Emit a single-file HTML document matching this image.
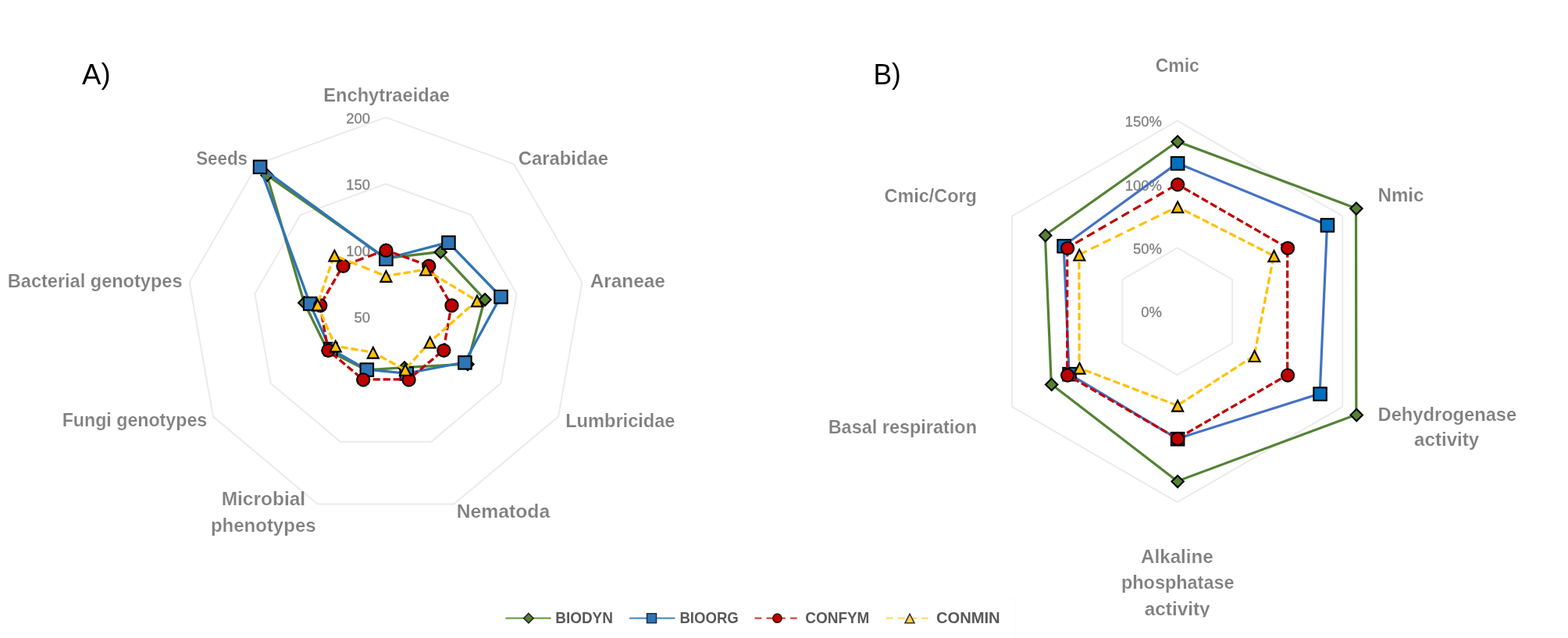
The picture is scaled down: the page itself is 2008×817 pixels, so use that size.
<!DOCTYPE html>
<html lang="en"><head><meta charset="utf-8"><title>Radar charts</title>
<style>html,body{margin:0;padding:0;background:#fff;}body{width:2008px;height:817px;overflow:hidden;}svg{display:block;font-family:'Liberation Sans', 'DejaVu Sans', sans-serif;}</style>
</head><body>
<svg width="2008" height="817" viewBox="0 0 2008 817">
<rect width="2008" height="817" fill="#fff"/>
<g id="chartA">
<polygon points="494.00,235.50 603.40,275.32 661.61,376.15 641.40,490.80 552.21,565.64 435.79,565.64 346.60,490.80 326.39,376.15 384.60,275.32" fill="none" stroke="#ebebeb" stroke-width="2.0"/>
<polygon points="494.00,150.40 658.10,210.13 745.42,361.37 715.10,533.35 581.32,645.60 406.68,645.60 272.90,533.35 242.58,361.37 329.90,210.13" fill="none" stroke="#ebebeb" stroke-width="2.0"/>
<text x="474.0" y="413.0" font-size="18.4" font-weight="normal" text-anchor="end" fill="#808080" stroke="#808080" stroke-width="0.3">50</text>
<text x="474.0" y="327.9" font-size="18.4" font-weight="normal" text-anchor="end" fill="#808080" stroke="#808080" stroke-width="0.3">100</text>
<text x="474.0" y="242.8" font-size="18.4" font-weight="normal" text-anchor="end" fill="#808080" stroke="#808080" stroke-width="0.3">150</text>
<text x="474.0" y="157.7" font-size="18.4" font-weight="normal" text-anchor="end" fill="#808080" stroke="#808080" stroke-width="0.3">200</text>
<text x="414.3" y="130.0" font-size="24.5" font-weight="bold" text-anchor="start" fill="#808080" textLength="161.7" lengthAdjust="spacingAndGlyphs" stroke="#fff" stroke-width="0.2">Enchytraeidae</text>
<text x="663.8" y="210.7" font-size="24.5" font-weight="bold" text-anchor="start" fill="#808080" textLength="115.2" lengthAdjust="spacingAndGlyphs" stroke="#fff" stroke-width="0.2">Carabidae</text>
<text x="755.7" y="367.5" font-size="24.5" font-weight="bold" text-anchor="start" fill="#808080" textLength="96.2" lengthAdjust="spacingAndGlyphs" stroke="#fff" stroke-width="0.2">Araneae</text>
<text x="724.2" y="546.5" font-size="24.5" font-weight="bold" text-anchor="start" fill="#808080" textLength="140.3" lengthAdjust="spacingAndGlyphs" stroke="#fff" stroke-width="0.2">Lumbricidae</text>
<text x="584.7" y="663.3" font-size="24.5" font-weight="bold" text-anchor="start" fill="#808080" textLength="119.5" lengthAdjust="spacingAndGlyphs" stroke="#fff" stroke-width="0.2">Nematoda</text>
<text x="283.7" y="646.6" font-size="24.5" font-weight="bold" text-anchor="start" fill="#808080" textLength="107.4" lengthAdjust="spacingAndGlyphs" stroke="#fff" stroke-width="0.2">Microbial</text>
<text x="269.9" y="680.5" font-size="24.5" font-weight="bold" text-anchor="start" fill="#808080" textLength="134.7" lengthAdjust="spacingAndGlyphs" stroke="#fff" stroke-width="0.2">phenotypes</text>
<text x="79.7" y="546.3" font-size="24.5" font-weight="bold" text-anchor="start" fill="#808080" textLength="185.5" lengthAdjust="spacingAndGlyphs" stroke="#fff" stroke-width="0.2">Fungi genotypes</text>
<text x="9.8" y="367.8" font-size="24.5" font-weight="bold" text-anchor="start" fill="#808080" textLength="223.7" lengthAdjust="spacingAndGlyphs" stroke="#fff" stroke-width="0.2">Bacterial genotypes</text>
<text x="251.2" y="210.6" font-size="24.5" font-weight="bold" text-anchor="start" fill="#808080" textLength="65.8" lengthAdjust="spacingAndGlyphs" stroke="#fff" stroke-width="0.2">Seeds</text>
<polygon points="494.00,330.70 563.81,322.51 620.65,383.37 598.53,466.05 517.60,470.54 469.20,473.83 419.52,448.70 389.41,387.26 341.66,224.15" fill="none" stroke="#548235" stroke-width="3.3" stroke-linejoin="round"/>
<path d="M494.40 323.40L502.10 331.10L494.40 338.80L486.70 331.10Z" fill="#548235" stroke="#000" stroke-width="2.1" stroke-linejoin="miter"/>
<path d="M564.21 315.21L571.91 322.91L564.21 330.61L556.51 322.91Z" fill="#548235" stroke="#000" stroke-width="2.1" stroke-linejoin="miter"/>
<path d="M621.05 376.07L628.75 383.77L621.05 391.47L613.35 383.77Z" fill="#548235" stroke="#000" stroke-width="2.1" stroke-linejoin="miter"/>
<path d="M598.93 458.75L606.63 466.45L598.93 474.15L591.23 466.45Z" fill="#548235" stroke="#000" stroke-width="2.1" stroke-linejoin="miter"/>
<path d="M518.00 463.24L525.70 470.94L518.00 478.64L510.30 470.94Z" fill="#548235" stroke="#000" stroke-width="2.1" stroke-linejoin="miter"/>
<path d="M469.60 466.53L477.30 474.23L469.60 481.93L461.90 474.23Z" fill="#548235" stroke="#000" stroke-width="2.1" stroke-linejoin="miter"/>
<path d="M419.92 441.40L427.62 449.10L419.92 456.80L412.22 449.10Z" fill="#548235" stroke="#000" stroke-width="2.1" stroke-linejoin="miter"/>
<path d="M389.81 379.96L397.51 387.66L389.81 395.36L382.11 387.66Z" fill="#548235" stroke="#000" stroke-width="2.1" stroke-linejoin="miter"/>
<path d="M342.06 216.85L349.76 224.55L342.06 232.25L334.36 224.55Z" fill="#548235" stroke="#000" stroke-width="2.1" stroke-linejoin="miter"/>
<polygon points="494.00,331.30 574.03,310.33 641.13,379.76 594.98,464.00 520.34,478.06 469.44,473.17 422.99,446.70 396.80,388.56 332.66,213.42" fill="none" stroke="#2e75b6" stroke-width="3.3" stroke-linejoin="round"/>
<rect x="486.15" y="323.45" width="16.50" height="16.50" fill="#2e75b6" stroke="#000" stroke-width="2.1"/>
<rect x="566.18" y="302.48" width="16.50" height="16.50" fill="#2e75b6" stroke="#000" stroke-width="2.1"/>
<rect x="633.28" y="371.91" width="16.50" height="16.50" fill="#2e75b6" stroke="#000" stroke-width="2.1"/>
<rect x="587.13" y="456.15" width="16.50" height="16.50" fill="#2e75b6" stroke="#000" stroke-width="2.1"/>
<rect x="512.49" y="470.21" width="16.50" height="16.50" fill="#2e75b6" stroke="#000" stroke-width="2.1"/>
<rect x="461.59" y="465.32" width="16.50" height="16.50" fill="#2e75b6" stroke="#000" stroke-width="2.1"/>
<rect x="415.14" y="438.85" width="16.50" height="16.50" fill="#2e75b6" stroke="#000" stroke-width="2.1"/>
<rect x="388.95" y="380.71" width="16.50" height="16.50" fill="#2e75b6" stroke="#000" stroke-width="2.1"/>
<rect x="324.81" y="205.57" width="16.50" height="16.50" fill="#2e75b6" stroke="#000" stroke-width="2.1"/>
<polyline points="494.00,320.30 548.89,340.28 578.10,390.87 567.96,448.40 523.21,485.95 464.79,485.95 420.04,448.40 409.90,390.87 439.11,340.28" fill="none" stroke="#c00000" stroke-width="3.3" stroke-linejoin="round" stroke-dasharray="9.2 3.8" stroke-dashoffset="3"/>
<line x1="439.11" y1="340.28" x2="494.00" y2="320.30" stroke="#c00000" stroke-width="3.3" stroke-dasharray="11 6.1" stroke-dashoffset="0"/>
<circle cx="494.40" cy="320.70" r="8.10" fill="#c00000" stroke="#000" stroke-width="2.1"/>
<circle cx="549.29" cy="340.68" r="8.10" fill="#c00000" stroke="#000" stroke-width="2.1"/>
<circle cx="578.50" cy="391.27" r="8.10" fill="#c00000" stroke="#000" stroke-width="2.1"/>
<circle cx="568.36" cy="448.80" r="8.10" fill="#c00000" stroke="#000" stroke-width="2.1"/>
<circle cx="523.61" cy="486.35" r="8.10" fill="#c00000" stroke="#000" stroke-width="2.1"/>
<circle cx="465.19" cy="486.35" r="8.10" fill="#c00000" stroke="#000" stroke-width="2.1"/>
<circle cx="420.44" cy="448.80" r="8.10" fill="#c00000" stroke="#000" stroke-width="2.1"/>
<circle cx="410.30" cy="391.27" r="8.10" fill="#c00000" stroke="#000" stroke-width="2.1"/>
<circle cx="439.51" cy="340.68" r="8.10" fill="#c00000" stroke="#000" stroke-width="2.1"/>
<polyline points="494.00,353.50 544.78,345.18 610.60,385.14 550.29,438.20 518.63,473.36 477.41,451.28 429.31,443.05 406.35,390.25 427.99,327.03" fill="none" stroke="#ffc000" stroke-width="3.3" stroke-linejoin="round" stroke-dasharray="9.2 3.8" stroke-dashoffset="3"/>
<line x1="427.99" y1="327.03" x2="494.00" y2="353.50" stroke="#ffc000" stroke-width="3.3" stroke-dasharray="11 6.1" stroke-dashoffset="-3.7"/>
<path d="M494.40 346.95L501.45 360.85L487.35 360.85Z" fill="#ffc000" stroke="#000" stroke-width="2.1" stroke-linejoin="miter"/>
<path d="M545.18 338.63L552.23 352.53L538.13 352.53Z" fill="#ffc000" stroke="#000" stroke-width="2.1" stroke-linejoin="miter"/>
<path d="M611.00 378.59L618.05 392.49L603.95 392.49Z" fill="#ffc000" stroke="#000" stroke-width="2.1" stroke-linejoin="miter"/>
<path d="M550.69 431.65L557.74 445.55L543.64 445.55Z" fill="#ffc000" stroke="#000" stroke-width="2.1" stroke-linejoin="miter"/>
<path d="M519.03 466.81L526.08 480.71L511.98 480.71Z" fill="#ffc000" stroke="#000" stroke-width="2.1" stroke-linejoin="miter"/>
<path d="M477.81 444.73L484.86 458.63L470.76 458.63Z" fill="#ffc000" stroke="#000" stroke-width="2.1" stroke-linejoin="miter"/>
<path d="M429.71 436.50L436.76 450.40L422.66 450.40Z" fill="#ffc000" stroke="#000" stroke-width="2.1" stroke-linejoin="miter"/>
<path d="M406.75 383.70L413.80 397.60L399.70 397.60Z" fill="#ffc000" stroke="#000" stroke-width="2.1" stroke-linejoin="miter"/>
<path d="M428.39 320.48L435.44 334.38L421.34 334.38Z" fill="#ffc000" stroke="#000" stroke-width="2.1" stroke-linejoin="miter"/>
</g>
<g id="chartB">
<polygon points="1507.70,317.40 1578.19,358.10 1578.19,439.50 1507.70,480.20 1437.21,439.50 1437.21,358.10" fill="none" stroke="#ebebeb" stroke-width="2.0"/>
<polygon points="1507.70,154.60 1719.18,276.70 1719.18,520.90 1507.70,643.00 1296.22,520.90 1296.22,276.70" fill="none" stroke="#ebebeb" stroke-width="2.0"/>
<text x="1487.8" y="406.3" font-size="18.4" font-weight="normal" text-anchor="end" fill="#808080" stroke="#808080" stroke-width="0.3">0%</text>
<text x="1487.8" y="324.9" font-size="18.4" font-weight="normal" text-anchor="end" fill="#808080" stroke="#808080" stroke-width="0.3">50%</text>
<text x="1487.8" y="243.5" font-size="18.4" font-weight="normal" text-anchor="end" fill="#808080" stroke="#808080" stroke-width="0.3">100%</text>
<text x="1487.8" y="162.1" font-size="18.4" font-weight="normal" text-anchor="end" fill="#808080" stroke="#808080" stroke-width="0.3">150%</text>
<text x="1479.7" y="91.7" font-size="24.5" font-weight="bold" text-anchor="start" fill="#808080" textLength="56.2" lengthAdjust="spacingAndGlyphs" stroke="#fff" stroke-width="0.2">Cmic</text>
<text x="1764.5" y="258.1" font-size="24.5" font-weight="bold" text-anchor="start" fill="#808080" textLength="59.0" lengthAdjust="spacingAndGlyphs" stroke="#fff" stroke-width="0.2">Nmic</text>
<text x="1764.6" y="538.8" font-size="24.5" font-weight="bold" text-anchor="start" fill="#808080" textLength="177.6" lengthAdjust="spacingAndGlyphs" stroke="#fff" stroke-width="0.2">Dehydrogenase</text>
<text x="1811.1" y="571.3" font-size="24.5" font-weight="bold" text-anchor="start" fill="#808080" textLength="83.1" lengthAdjust="spacingAndGlyphs" stroke="#fff" stroke-width="0.2">activity</text>
<clipPath id="clipB"><rect x="1380" y="680" width="300" height="110.3"/></clipPath>
<g clip-path="url(#clipB)">
<text x="1461.1" y="720.7" font-size="24.5" font-weight="bold" text-anchor="start" fill="#808080" textLength="92.6" lengthAdjust="spacingAndGlyphs" stroke="#fff" stroke-width="0.2">Alkaline</text>
<text x="1436.0" y="754.3" font-size="24.5" font-weight="bold" text-anchor="start" fill="#808080" textLength="144.5" lengthAdjust="spacingAndGlyphs" stroke="#fff" stroke-width="0.2">phosphatase</text>
<text x="1465.8" y="788.1" font-size="24.5" font-weight="bold" text-anchor="start" fill="#808080" textLength="83.7" lengthAdjust="spacingAndGlyphs" stroke="#fff" stroke-width="0.2">activity</text>
</g>
<text x="1060.7" y="554.7" font-size="24.5" font-weight="bold" text-anchor="start" fill="#808080" textLength="190.3" lengthAdjust="spacingAndGlyphs" stroke="#fff" stroke-width="0.2">Basal respiration</text>
<text x="1132.5" y="259.3" font-size="24.5" font-weight="bold" text-anchor="start" fill="#808080" textLength="118.4" lengthAdjust="spacingAndGlyphs" stroke="#fff" stroke-width="0.2">Cmic/Corg</text>
<polygon points="1507.70,181.20 1736.50,266.70 1736.85,531.10 1507.70,616.20 1346.27,492.00 1338.39,301.05" fill="none" stroke="#548235" stroke-width="3.2" stroke-linejoin="round"/>
<path d="M1508.10 173.90L1515.80 181.60L1508.10 189.30L1500.40 181.60Z" fill="#548235" stroke="#000" stroke-width="2.1" stroke-linejoin="miter"/>
<path d="M1736.90 259.40L1744.60 267.10L1736.90 274.80L1729.20 267.10Z" fill="#548235" stroke="#000" stroke-width="2.1" stroke-linejoin="miter"/>
<path d="M1737.25 523.80L1744.95 531.50L1737.25 539.20L1729.55 531.50Z" fill="#548235" stroke="#000" stroke-width="2.1" stroke-linejoin="miter"/>
<path d="M1508.10 608.90L1515.80 616.60L1508.10 624.30L1500.40 616.60Z" fill="#548235" stroke="#000" stroke-width="2.1" stroke-linejoin="miter"/>
<path d="M1346.67 484.70L1354.37 492.40L1346.67 500.10L1338.97 492.40Z" fill="#548235" stroke="#000" stroke-width="2.1" stroke-linejoin="miter"/>
<path d="M1338.79 293.75L1346.49 301.45L1338.79 309.15L1331.09 301.45Z" fill="#548235" stroke="#000" stroke-width="2.1" stroke-linejoin="miter"/>
<polygon points="1507.70,208.90 1699.52,288.05 1690.17,504.15 1507.70,561.80 1369.14,478.80 1362.21,314.80" fill="none" stroke="#4472c4" stroke-width="3.2" stroke-linejoin="round"/>
<rect x="1499.85" y="201.05" width="16.50" height="16.50" fill="#0070c0" stroke="#000" stroke-width="2.1"/>
<rect x="1691.67" y="280.20" width="16.50" height="16.50" fill="#0070c0" stroke="#000" stroke-width="2.1"/>
<rect x="1682.32" y="496.30" width="16.50" height="16.50" fill="#0070c0" stroke="#000" stroke-width="2.1"/>
<rect x="1499.85" y="553.95" width="16.50" height="16.50" fill="#0070c0" stroke="#000" stroke-width="2.1"/>
<rect x="1361.29" y="470.95" width="16.50" height="16.50" fill="#0070c0" stroke="#000" stroke-width="2.1"/>
<rect x="1354.36" y="306.95" width="16.50" height="16.50" fill="#0070c0" stroke="#000" stroke-width="2.1"/>
<polyline points="1507.70,236.00 1648.69,317.40 1648.69,480.20 1507.70,561.60 1366.71,480.20 1366.71,317.40" fill="none" stroke="#c00000" stroke-width="3.2" stroke-linejoin="round" stroke-dasharray="9.2 3.8" stroke-dashoffset="3"/>
<line x1="1366.71" y1="317.40" x2="1507.70" y2="236.00" stroke="#c00000" stroke-width="3.2" stroke-dasharray="11 6.1" stroke-dashoffset="5"/>
<circle cx="1508.10" cy="236.40" r="8.10" fill="#c00000" stroke="#000" stroke-width="2.1"/>
<circle cx="1649.09" cy="317.80" r="8.10" fill="#c00000" stroke="#000" stroke-width="2.1"/>
<circle cx="1649.09" cy="480.60" r="8.10" fill="#c00000" stroke="#000" stroke-width="2.1"/>
<circle cx="1508.10" cy="562.00" r="8.10" fill="#c00000" stroke="#000" stroke-width="2.1"/>
<circle cx="1367.11" cy="480.60" r="8.10" fill="#c00000" stroke="#000" stroke-width="2.1"/>
<circle cx="1367.11" cy="317.80" r="8.10" fill="#c00000" stroke="#000" stroke-width="2.1"/>
<polyline points="1507.70,264.80 1631.11,327.55 1606.17,455.65 1507.70,519.30 1382.13,471.30 1381.87,326.15" fill="none" stroke="#ffc000" stroke-width="3.2" stroke-linejoin="round" stroke-dasharray="9.2 3.8" stroke-dashoffset="3"/>
<line x1="1381.87" y1="326.15" x2="1507.70" y2="264.80" stroke="#ffc000" stroke-width="3.2" stroke-dasharray="11 6.1" stroke-dashoffset="0"/>
<path d="M1508.10 258.25L1515.15 272.15L1501.05 272.15Z" fill="#ffc000" stroke="#000" stroke-width="2.1" stroke-linejoin="miter"/>
<path d="M1631.51 321.00L1638.56 334.90L1624.46 334.90Z" fill="#ffc000" stroke="#000" stroke-width="2.1" stroke-linejoin="miter"/>
<path d="M1606.57 449.10L1613.62 463.00L1599.52 463.00Z" fill="#ffc000" stroke="#000" stroke-width="2.1" stroke-linejoin="miter"/>
<path d="M1508.10 512.75L1515.15 526.65L1501.05 526.65Z" fill="#ffc000" stroke="#000" stroke-width="2.1" stroke-linejoin="miter"/>
<path d="M1382.53 464.75L1389.58 478.65L1375.48 478.65Z" fill="#ffc000" stroke="#000" stroke-width="2.1" stroke-linejoin="miter"/>
<path d="M1382.27 319.60L1389.32 333.50L1375.22 333.50Z" fill="#ffc000" stroke="#000" stroke-width="2.1" stroke-linejoin="miter"/>
</g>
<text x="105.0" y="108.4" font-size="37.5" font-weight="normal" text-anchor="start" fill="#000" textLength="36.6" lengthAdjust="spacingAndGlyphs">A<tspan dy="-1">)</tspan></text>
<text x="1118.4" y="108.4" font-size="37.5" font-weight="normal" text-anchor="start" fill="#000" textLength="35.4" lengthAdjust="spacingAndGlyphs">B<tspan dy="-1">)</tspan></text>
<g id="legend">
<rect x="633.5" y="766.7" width="666.8" height="60" fill="none" stroke="#fdfdfd" stroke-width="1"/>
<line x1="647.4" y1="791.7" x2="705.7" y2="791.7" stroke="#70a04a" stroke-width="2.2"/>
<path d="M676.90 785.50L683.10 791.70L676.90 797.90L670.70 791.70Z" fill="#548235" stroke="#262626" stroke-width="1.6" stroke-linejoin="miter"/>
<text x="711.3" y="797.6" font-size="19.8" font-weight="bold" text-anchor="start" fill="#595959" textLength="73.6" lengthAdjust="spacingAndGlyphs">BIODYN</text>
<line x1="806.1" y1="791.7" x2="864.5" y2="791.7" stroke="#4f8fcc" stroke-width="2.2"/>
<rect x="828.50" y="785.70" width="12.00" height="12.00" fill="#2e75b6" stroke="#1f2f3f" stroke-width="1.5"/>
<text x="870.4" y="797.6" font-size="19.8" font-weight="bold" text-anchor="start" fill="#595959" textLength="75.4" lengthAdjust="spacingAndGlyphs">BIOORG</text>
<line x1="966.4" y1="791.7" x2="1020.8" y2="791.7" stroke="#d64545" stroke-width="2.2" stroke-dasharray="9 6.2"/>
<circle cx="995.40" cy="791.70" r="5.60" fill="#c00000" stroke="#3a0a0a" stroke-width="1.5"/>
<text x="1031.3" y="797.6" font-size="19.8" font-weight="bold" text-anchor="start" fill="#595959" textLength="82.1" lengthAdjust="spacingAndGlyphs">CONFYM</text>
<line x1="1134.6" y1="791.7" x2="1188.7" y2="791.7" stroke="#ffd966" stroke-width="2.2" stroke-dasharray="9 6.2"/>
<path d="M1165.00 786.20L1171.00 797.80L1159.00 797.80Z" fill="#ffd24d" stroke="#333" stroke-width="1.5" stroke-linejoin="miter"/>
<text x="1198.9" y="797.6" font-size="19.8" font-weight="bold" text-anchor="start" fill="#595959" textLength="81.8" lengthAdjust="spacingAndGlyphs">CONMIN</text>
</g>
</svg>
</body></html>
